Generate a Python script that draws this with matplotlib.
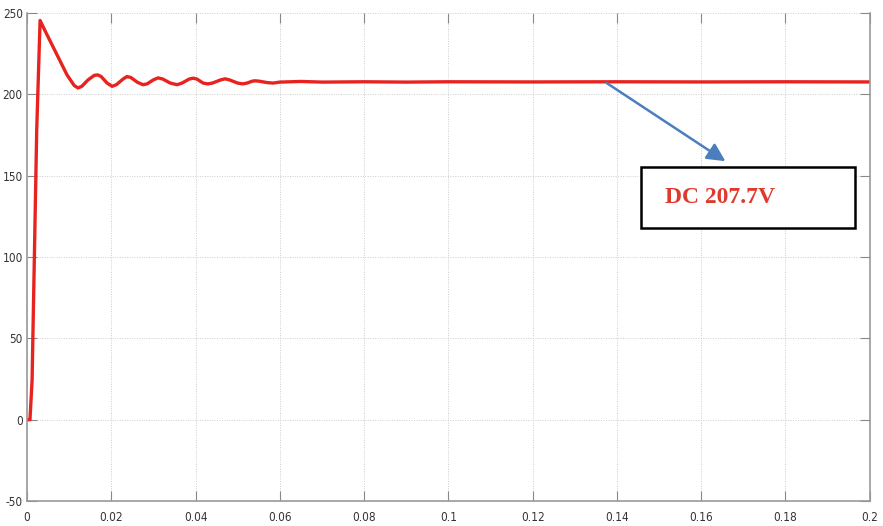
import matplotlib.pyplot as plt
from matplotlib.patches import Rectangle

plt.rcParams["axes.unicode_minus"] = False

# DC link voltage
t = [0.0, 0.0007, 0.0012, 0.0023, 0.0031, 0.0045, 0.0070, 0.0095,
     0.0112, 0.0121, 0.0130, 0.0145, 0.0160, 0.0168, 0.0176, 0.0190, 0.0202,
     0.0212, 0.0228, 0.0237, 0.0246, 0.0262, 0.0275, 0.0285, 0.0300, 0.0311,
     0.0322, 0.0340, 0.0356, 0.0368, 0.0385, 0.0394, 0.0403, 0.0418, 0.0429,
     0.0440, 0.0460, 0.0470, 0.0480, 0.0500, 0.0512, 0.0522, 0.0535, 0.0541,
     0.0550, 0.0570, 0.0584, 0.0600, 0.0650, 0.0700, 0.0800, 0.0900, 0.1000,
     0.1200, 0.1400, 0.1600, 0.1800, 0.2000]
v = [0.0, 0.0, 24.0, 178.0, 245.5, 238.0, 225.0, 212.0,
     205.5, 204.0, 205.0, 209.0, 211.8, 212.0, 211.0, 207.0, 205.0,
     206.0, 209.5, 211.0, 210.5, 207.5, 206.0, 206.5, 209.0, 210.2,
     209.5, 207.0, 206.0, 207.0, 209.5, 210.0, 209.5, 207.0, 206.5,
     207.0, 209.0, 209.6, 209.0, 207.0, 206.5, 207.0, 208.2, 208.4,
     208.2, 207.3, 207.0, 207.6, 208.0, 207.6, 207.8, 207.6, 207.8,
     207.7, 207.8, 207.7, 207.8, 207.7]

xticks = [0, 0.02, 0.04, 0.06, 0.08, 0.1, 0.12, 0.14, 0.16, 0.18, 0.2]
xlabels = ["0", "0.02", "0.04", "0.06", "0.08", "0.1", "0.12", "0.14", "0.16", "0.18", "0.2"]
yticks = [-50, 0, 50, 100, 150, 200, 250]
label_text = "DC 207.7V"

fig = plt.figure(figsize=(8.83, 5.26), dpi=100)
ax = fig.add_axes([0.0306, 0.0475, 0.9544, 0.9275])

ax.plot(t, v, color="#e8231f", lw=2.4, solid_joinstyle="round", solid_capstyle="round")

ax.set_xlim(0, 0.2)
ax.set_ylim(-50, 250)
ax.set_xticks(xticks)
ax.set_xticklabels(xlabels)
ax.set_yticks(yticks)
ax.grid(True, color="#cccccc", linestyle=(0, (1, 1.5)), lw=0.7)
ax.tick_params(direction="in", length=7, color="#888888", labelcolor="#333333",
               top=True, right=True, labelsize=8.5)
ax.tick_params(axis="x", pad=7)
ax.tick_params(axis="y", pad=3)
for lab in ax.get_xticklabels() + ax.get_yticklabels():
    lab.set_family(["Liberation Sans Narrow", "DejaVu Sans"])
    lab.set_stretch("condensed")
for side in ["left", "bottom", "right"]:
    ax.spines[side].set_color("#999999")
    ax.spines[side].set_linewidth(1.2)
ax.spines["top"].set_visible(False)

# annotation arrow and label box
ax.annotate("", xy=(0.1663, 158), xytext=(0.137, 208),
            arrowprops=dict(arrowstyle="-|>,head_length=1.1,head_width=0.55",
                            color="#4a7ebf", lw=1.8))
ax.add_patch(Rectangle((0.1457, 118), 0.0507, 37.5, fill=True, facecolor="white",
                       edgecolor="black", lw=1.8, zorder=5))
ax.text(0.1645, 136.5, label_text, color="#e03a2e", fontsize=17, fontweight="bold",
        family=["Liberation Serif", "DejaVu Serif"], ha="center", va="center", zorder=6)

fig.savefig("out.png", dpi=100)
